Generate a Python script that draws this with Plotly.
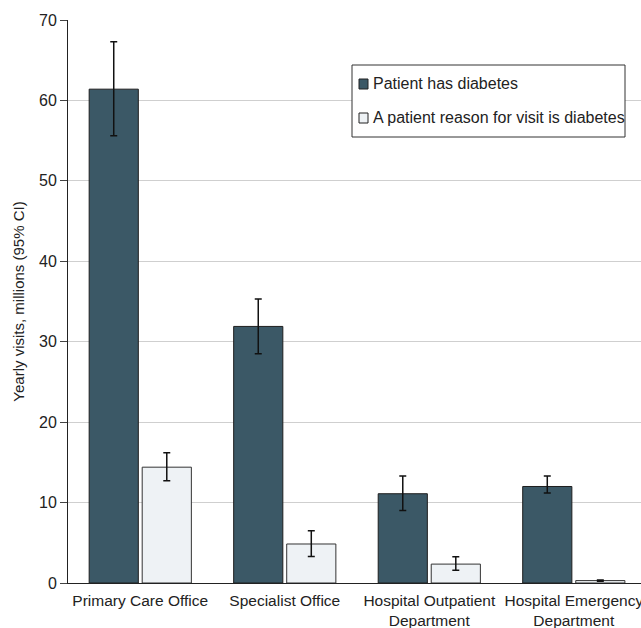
import plotly.graph_objects as go

categories = ["Primary Care Office", "Specialist Office",
              "Hospital Outpatient<br>Department", "Hospital Emergency<br>Department"]
series_names = ["Patient has diabetes", "A patient reason for visit is diabetes"]
has_diabetes = [61.4, 31.9, 11.1, 12.0]
has_diabetes_lo = [55.6, 28.5, 9.0, 11.2]
has_diabetes_hi = [67.3, 35.3, 13.3, 13.3]
reason_diabetes = [14.4, 4.85, 2.35, 0.3]
reason_diabetes_lo = [12.7, 3.3, 1.6, 0.22]
reason_diabetes_hi = [16.2, 6.5, 3.25, 0.38]

DARK = "#3b5866"
LIGHT = "#eef2f5"

def err(vals, lo, hi):
    return dict(type="data", symmetric=False,
                array=[h - v for v, h in zip(vals, hi)],
                arrayminus=[v - l for v, l in zip(vals, lo)],
                color="#111111", thickness=1.5, width=3.5)

fig = go.Figure()
fig.add_trace(go.Bar(
    x=categories, y=has_diabetes, name=series_names[0],
    marker=dict(color=DARK, line=dict(color="#1e1e1e", width=1)),
    error_y=err(has_diabetes, has_diabetes_lo, has_diabetes_hi)))
fig.add_trace(go.Bar(
    x=categories, y=reason_diabetes, name=series_names[1],
    marker=dict(color=LIGHT, line=dict(color="#333333", width=1)),
    error_y=err(reason_diabetes, reason_diabetes_lo, reason_diabetes_hi)))

# plot area spans x 68..641, y 20..583 in the window (body margin removed)
W, H = 641, 628
ML, MT, MB = 68, 20, 45
PW, PH = W - ML, H - MT - MB

def px(x):
    return (x - ML) / PW

def py(y):
    return 1 - (y - MT) / PH

shapes = [dict(type="rect", xref="paper", yref="paper",
               x0=px(352), x1=px(625), y0=py(137), y1=py(65),
               line=dict(color="#333333", width=1), fillcolor="white", layer="above")]
annotations = []
for i, (name, col) in enumerate(zip(series_names, [DARK, LIGHT])):
    cy = 84 + 34 * i
    shapes.append(dict(type="rect", xref="paper", yref="paper",
                       x0=px(359), x1=px(368), y0=py(cy + 5), y1=py(cy - 5),
                       line=dict(color="#222222", width=1), fillcolor=col, layer="above"))
    annotations.append(dict(xref="paper", yref="paper", x=px(371), y=py(cy),
                            xanchor="left", yanchor="middle", showarrow=False,
                            text=name, font=dict(size=16, color="#222222")))

fig.update_layout(
    width=W, height=H,
    margin=dict(l=ML, r=0, t=MT, b=MB, autoexpand=False),
    paper_bgcolor="white", plot_bgcolor="white",
    font=dict(family="Liberation Sans, Arial, sans-serif", size=16, color="#222222"),
    barmode="group", bargap=0.266, bargroupgap=0.073,
    showlegend=False,
    shapes=shapes, annotations=annotations,
    xaxis=dict(range=[-0.5, 3.465], showline=True, linecolor="#222222", linewidth=1,
               ticks="", showgrid=False, tickfont=dict(size=15.5), ticklabelstandoff=3,
               automargin=False, fixedrange=True),
    yaxis=dict(range=[0, 70], dtick=10, showline=True, linecolor="#222222", linewidth=1,
               ticks="outside", ticklen=7, tickcolor="#444444",
               showgrid=True, gridcolor="#cfcfcf", gridwidth=1,
               zeroline=False, tickfont=dict(size=16), automargin=False,
               title=dict(text="Yearly visits, millions (95% CI)", font=dict(size=15), standoff=10)),
)

fig.write_html("out.html", config={"displayModeBar": False},
               post_script="document.body.style.margin='0px';document.body.style.overflow='hidden';")
